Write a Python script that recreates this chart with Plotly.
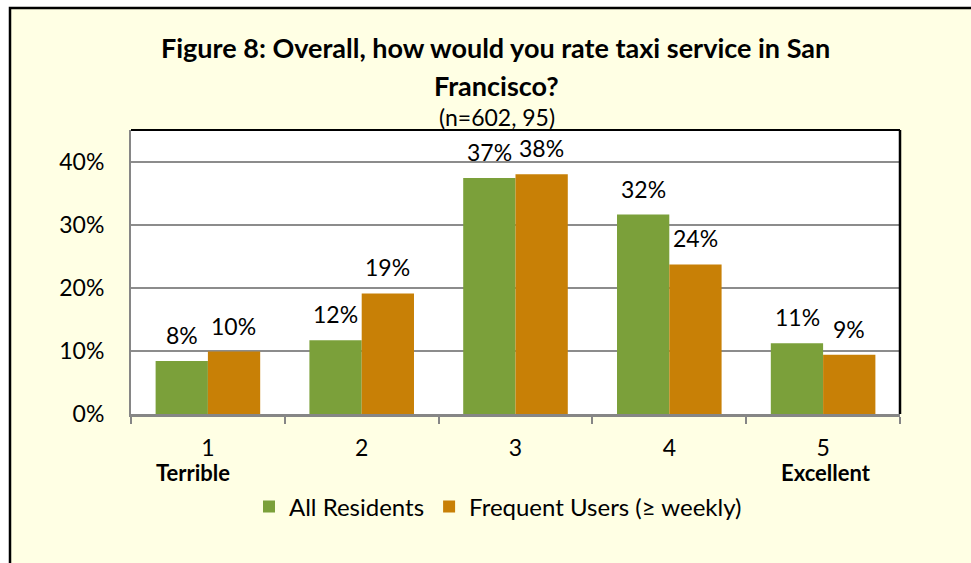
import plotly.graph_objects as go

categories = ["1", "2", "3", "4", "5"]
end_labels = ["Terrible", "", "", "", "Excellent"]
all_residents = [8.4, 11.7, 37.4, 31.6, 11.2]
frequent_users = [9.9, 19.1, 38.0, 23.7, 9.4]
series_names = ["All Residents", "Frequent Users (≥ weekly)"]

FONT = "Lato"
W, H = 971, 563
L, R, T, B = 131, 71, 130, 149
pw, ph = W - L - R, H - T - B

def px_x(x):
    return (x - L) / pw

def px_y(y):
    return (H - B - y) / ph

fig = go.Figure()
fig.add_trace(go.Bar(x=categories, y=all_residents, name=series_names[0],
                     marker=dict(color="#7BA03A", line=dict(width=0))))
fig.add_trace(go.Bar(x=categories, y=frequent_users, name=series_names[1],
                     marker=dict(color="#C88006", line=dict(width=0))))

annotations = []
for vals, shift in ((all_residents, -26), (frequent_users, 26)):
    for i, v in enumerate(vals):
        annotations.append(dict(x=i, y=v, xref="x", yref="y", text=f"{round(v)}%",
                                showarrow=False, xshift=shift, yshift=26,
                                xanchor="center", yanchor="middle",
                                font=dict(family=FONT, size=23, color="#000")))

for i, lab in enumerate(end_labels):
    if lab:
        annotations.append(dict(x=i, y=px_y(472), xref="x", yref="paper", text=f"<b>{lab}</b>",
                                showarrow=False, xshift=-15 if i == 0 else 3,
                                xanchor="center", yanchor="middle",
                                font=dict(family=FONT, size=22, color="#000")))

annotations += [
    dict(x=px_x(495), y=px_y(48), xref="paper", yref="paper", showarrow=False,
         xanchor="center", yanchor="middle",
         text="<b>Figure 8: Overall, how would you rate taxi service in San</b>",
         font=dict(family=FONT, size=27, color="#000")),
    dict(x=px_x(496), y=px_y(85), xref="paper", yref="paper", showarrow=False,
         xanchor="center", yanchor="middle",
         text="<b>Francisco?</b>", font=dict(family=FONT, size=27, color="#000")),
    dict(x=px_x(497), y=px_y(117), xref="paper", yref="paper", showarrow=False,
         xanchor="center", yanchor="middle",
         text="(n=602, 95)", font=dict(family=FONT, size=23, color="#000")),
]

shapes = [
    dict(type="rect", xref="paper", yref="paper", x0=px_x(10), x1=px_x(995),
         y0=px_y(600), y1=px_y(8), fillcolor="#FFFFE4",
         line=dict(color="#000", width=2.5), layer="below"),
    dict(type="rect", xref="paper", yref="paper", x0=0, x1=1, y0=0, y1=1,
         fillcolor="#FFFFFF", line=dict(width=0), layer="below"),
    dict(type="line", xref="paper", yref="paper", x0=0, x1=1, y0=1, y1=1,
         line=dict(color="#000", width=2)),
    dict(type="line", xref="paper", yref="paper", x0=1, x1=1, y0=0, y1=1,
         line=dict(color="#000", width=2.5)),
]

fig.update_layout(
    width=W, height=H,
    margin=dict(l=L, r=R, t=T, b=B),
    paper_bgcolor="#FFFFFF", plot_bgcolor="#FFFFFF",
    barmode="group", bargap=0.32, bargroupgap=0,
    font=dict(family=FONT, size=23, color="#000"),
    showlegend=True,
    legend=dict(orientation="h", x=px_x(498), xanchor="center", y=px_y(507), yanchor="middle",
                font=dict(family=FONT, size=24), bgcolor="rgba(0,0,0,0)", itemwidth=30,
                traceorder="normal"),
    annotations=annotations, shapes=shapes,
)
fig.update_xaxes(type="category", tickvals=categories, ticktext=categories,
                 showline=True, linecolor="#868686", linewidth=2.5,
                 ticks="outside", tickson="boundaries", ticklen=7, tickcolor="#868686",
                 tickwidth=2, showgrid=False, tickfont=dict(family=FONT, size=23),
                 ticklabelstandoff=12)
fig.update_yaxes(range=[0, 45], tickvals=[0, 10, 20, 30, 40],
                 ticktext=["0%", "10%", "20%", "30%", "40%"],
                 showline=True, linecolor="#868686", linewidth=2,
                 showgrid=True, gridcolor="#8C8C8C", gridwidth=1.5,
                 ticks="", zeroline=False, tickfont=dict(family=FONT, size=23),
                 ticklabelstandoff=20)

fig.write_html("out.html", config={"displayModeBar": False},
               post_script="document.body.style.margin='0';document.body.style.overflow='hidden';")
